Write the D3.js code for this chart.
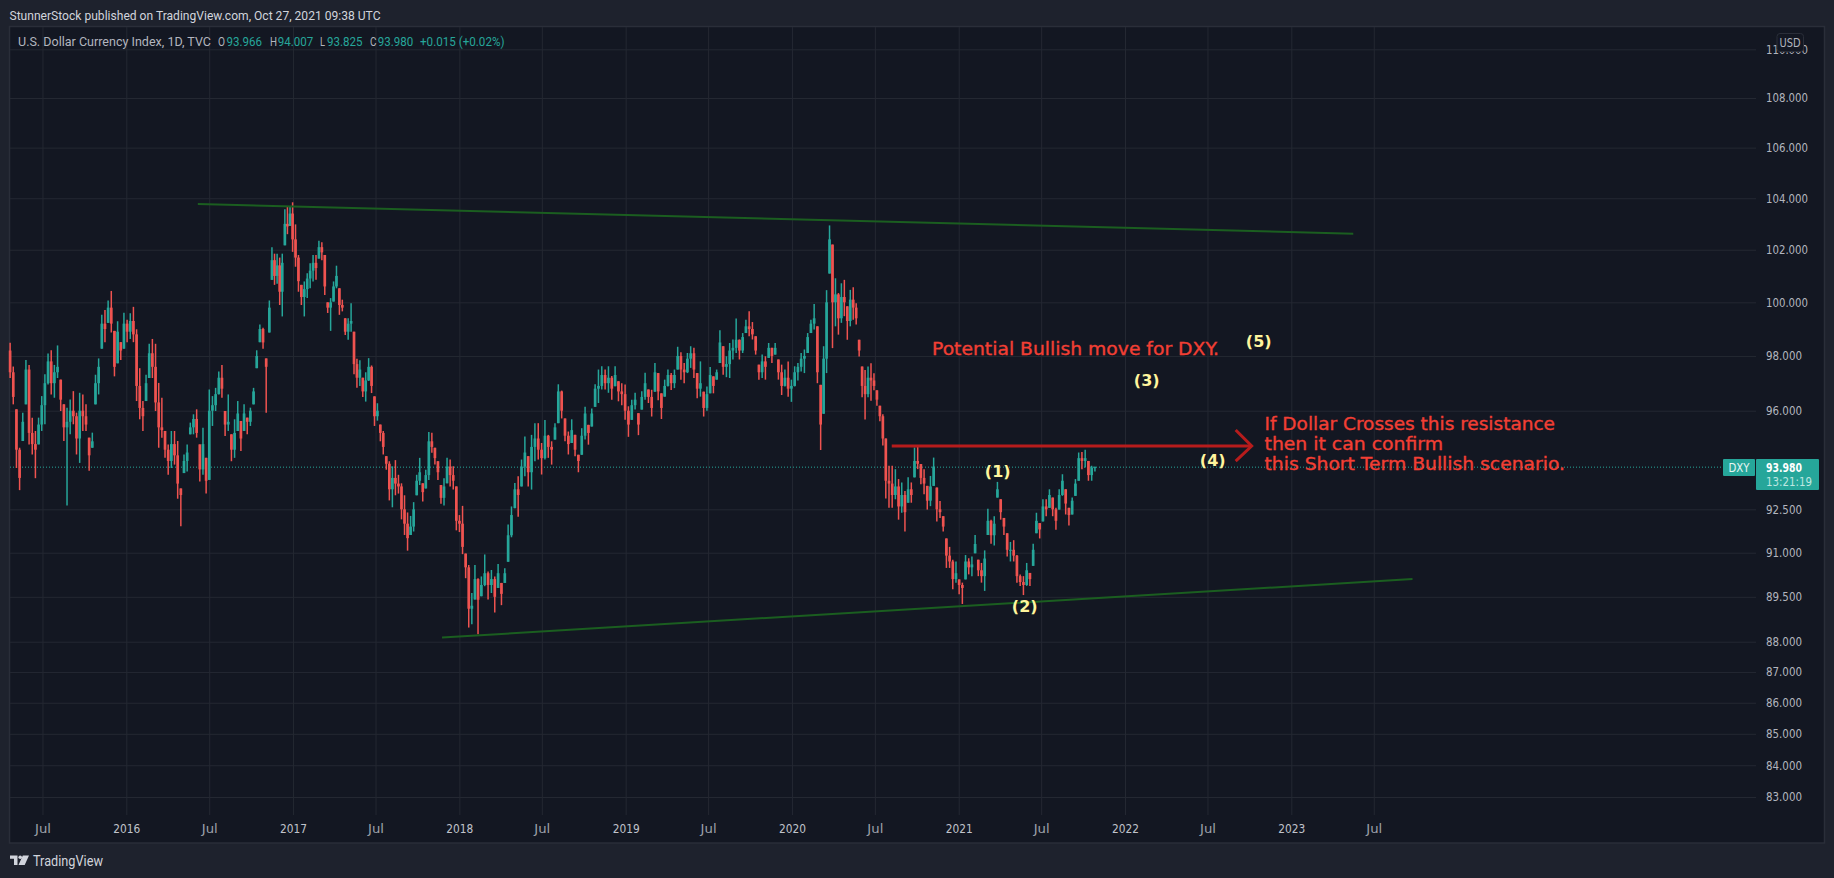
<!DOCTYPE html>
<html><head><meta charset="utf-8">
<script src="https://cdn.jsdelivr.net/npm/d3@7"></script>
<style>
html,body{margin:0;padding:0;background:#1e222d;overflow:hidden}
svg{display:block}
text{font-family:Roboto,"Noto Sans",sans-serif}
.note{font-family:"DejaVu Sans",sans-serif;fill:#f23f34;stroke:#f23f34;stroke-width:.35px}
.wave{font-family:"DejaVu Sans",sans-serif;font-weight:700;fill:#fff59d}
.domain{display:none}
</style></head><body>
<svg id="c" width="1834" height="878"></svg>
<script>
const highs=[98.49,97.61,96.05,94.67,95.93,97.85,97.67,95.75,95.27,95.75,
96.53,97.33,98.09,98.21,97.67,98.39,97.13,96.23,96.11,96.41,
96.71,95.93,96.65,96.59,96.23,95.03,95.21,97.31,97.91,99.53,
99.71,100.07,100.43,98.93,99.29,98.51,99.61,99.35,99.59,99.83,
98.99,97.55,96.35,97.31,98.45,98.63,98.45,97.01,96.47,95.27,
94.79,95.27,95.27,94.91,93.23,94.43,94.79,95.57,95.87,96.05,
94.79,95.39,94.31,96.77,96.53,96.83,97.43,97.67,95.99,96.59,
95.15,95.69,96.35,95.63,96.23,95.75,96.11,96.83,98.21,99.17,
99.05,97.91,100.07,102.1,101.85,101.85,101.7,101.85,103.57,103.67,
103.67,103.84,102.98,101.8,100.66,100.79,101.1,101.48,101.8,101.8,
102.35,102.29,101.8,100,100.16,100.79,101.39,100.53,100.1,99.4,
99.4,99.97,98.9,97.9,97.84,97.2,97.4,97.92,97.65,96.52,
96.27,95.5,95.27,94.37,94.19,94.01,94.23,93.71,93.41,92.99,
92.39,92.27,92.75,93.71,94.31,93.41,93.89,95.23,95.21,94.67,
94.19,93.35,93.59,94.31,94.25,94.01,93.3,92.3,92.62,90.97,
90.58,89.63,90.58,90.13,90.19,90.94,90.36,90.41,90.19,90.61,
89.97,90.47,91.97,92.6,93.42,93.66,94.25,95.07,94.37,95.13,
95.55,95.55,94.84,95.66,95.13,94.9,95.55,96.96,96.73,95.72,
95.25,95.69,95.13,94.42,95.37,96.14,95.49,96.08,96.96,97.5,
97.62,97.5,97.62,97.26,97.62,97.07,97,96.95,96.16,96.4,
96.65,95.91,96.71,97.38,96.77,96.76,97.74,97.37,96.63,97.13,
97.5,97.37,97.5,98.34,98.14,97.74,98.11,98.36,98.3,97.37,
97.8,96.69,96.88,97.59,97.25,97.5,98.95,98.36,97.99,98.48,
98.61,99.39,98.61,98.85,99.35,99.66,99.26,98.73,97.68,98.05,
97.99,98.48,98.3,98.48,97.87,97.68,97.5,97.8,97.13,97.62,
97.74,98.11,98.24,98.85,99.35,99.94,99.1,96.94,98.36,100.46,
102.94,102.2,100.91,100.35,100.72,100.85,99.85,100.47,100.57,99.97,
98.6,97.61,97.48,97.61,97.73,97.36,96.74,96.18,95.87,95,
94.03,94.03,93.91,93.56,93.44,93.14,93.62,93.44,94.68,94.74,
94.09,93.91,93.32,93.67,94.32,93.26,92.79,92.26,91.49,91.2,
90.76,90.7,90.09,89.98,90.92,90.81,90.87,91.61,90.76,90.65,
91.08,92.52,92.14,92.26,93.46,92.85,92.2,91.67,91.37,91.43,
90.92,90.26,90.2,90.65,90.31,91.31,92.38,92.02,92.85,92.85,
93.2,92.91,92.55,93.2,93.73,93.2,92.55,92.91,93.56,94.5,
94.52,94.6,94.2,94.03,94.007];
const lows=[97.19,96.23,93.95,93.17,94.91,96.23,94.79,94.43,93.59,94.79,
95.27,95.51,96.95,96.59,96.47,97.19,95.99,94.91,92.63,95.15,
95.51,94.43,94.13,95.27,95.27,93.85,94.67,96.23,96.59,98.27,
98.51,99.23,98.87,97.25,97.73,97.85,98.27,98.51,98.63,98.51,
96.35,95.69,95.27,96.35,97.19,97.19,95.99,94.67,95.03,94.31,
93.71,93.95,94.07,92.87,91.91,93.77,93.83,95.15,95.15,95.03,
93.47,93.71,93.05,93.53,95.45,95.99,96.59,96.47,95.09,95.27,
94.19,94.31,95.27,94.55,95.27,95.15,95.45,96.23,97.55,98.51,
98.27,95.93,98.87,100.85,100.66,100.7,99.9,99.47,102.17,102.6,
102.92,101.92,101.35,100.4,99.9,99.47,100.16,100.53,100.79,100.85,
101.66,101.6,100.28,99.6,98.93,100.03,100.53,99.53,99.66,98.78,
98.6,98.9,97.33,96.83,96.9,96.5,96.33,97.08,96.64,95.45,
95.64,94.9,94.43,93.89,92.81,92.57,92.99,93.05,92.15,91.61,
91.07,91.61,91.73,92.99,93.35,92.77,93.23,93.53,94.49,94.07,
93.53,92.69,92.63,93.41,93.3,93.19,91.77,91.71,90.95,90.13,
88.47,88.58,89.41,88.25,89.52,89.86,89.41,89.63,88.97,89.8,
89.22,89.97,90.69,91.53,92.54,92.24,93.3,93.66,93.3,93.19,
94.19,94.25,93.72,94.25,94.31,94.07,94.96,95.55,95.72,94.9,
94.43,94.84,94.37,93.8,94.42,94.96,94.78,95.43,96.14,96.28,
96.77,96.77,96.65,96.4,96.89,96.34,96.2,95.67,95.06,95.67,
96.04,95.12,96.04,96.4,96.28,95.79,96.69,96.38,95.7,96.51,
96.88,96.75,96.82,97.5,97.13,97,97.37,97.56,97.19,96.45,
96.51,95.79,96,96.63,96.63,97.13,97.74,97.31,97.22,97.19,
97.87,98.11,97.87,98.11,98.85,98.73,98.61,98.05,97.13,97.19,
97.13,97.93,97.74,98.05,97.13,96.57,96.88,96.51,96.32,96.88,
97.1,97.43,97.37,98.11,98.85,98.98,97,94.59,95.89,97.37,
101.09,98.29,99.1,98.79,99.23,99.48,98.6,99.1,99.35,99.17,
97.98,96.49,95.68,96.49,96.36,96.74,96.18,95.62,94.75,92.88,
92.55,92.55,92.85,92.14,92.38,91.73,92.73,92.73,93.62,93.91,
93.38,93.03,92.49,92.61,93.32,92.08,92.2,91.73,90.48,90.48,
89.76,89.98,89.59,89.26,90.09,90.26,90.2,90.98,90.2,89.98,
89.7,91.61,91.31,91.25,92.91,92.14,91.61,90.87,90.7,90.7,
89.98,89.87,89.56,89.87,89.87,90.55,91.67,91.49,92.08,92.26,
92.55,92.26,91.79,92.49,92.97,92.32,91.94,92.32,92.97,93.5,
93.91,93.97,93.5,93.5,93.825];
const closes=[97.4,96.5,94.6,93.6,95.6,97.5,95.2,94.8,94.6,95.5,
96.2,97,97.8,97,97.4,97.6,96.4,95.4,95.6,96,
95.8,95,96,95.8,95.5,94.4,94.9,97,97.6,99.2,
99,99.8,99.2,97.6,98.9,98.2,99.2,98.9,99.3,98.8,
96.9,96.1,95.8,97,98.1,97.6,96.3,95.4,95.3,94.6,
94.2,94.8,94.4,93.4,93,94.2,94.5,95.4,95.7,95.2,
93.9,94.8,93.5,96,96.2,96.6,97.2,96.8,95.5,95.6,
94.6,95.2,95.9,95,95.9,95.6,96,96.7,98,99,
98.5,97.6,99.8,101.6,101,101.4,100.4,101.5,103,102.9,
103.4,102.4,101.7,100.8,100.2,100.5,100.9,101.2,101.5,101.3,
102.1,101.9,100.6,99.8,100,100.6,101,99.9,99.8,98.9,
99.2,99.3,97.7,97.2,97.5,96.7,97.1,97.6,96.9,95.8,
96,95.2,94.7,94.1,93.2,93.6,93.4,93.3,92.5,92,
91.5,91.9,92.5,93.5,93.8,93.1,93.7,94.9,94.7,94.3,
93.8,92.9,93.3,94,93.7,93.5,92.1,92,91.2,90.5,
89.1,89.2,90.1,89.4,89.9,90.3,89.9,90.1,89.5,90.3,
89.6,90.3,91.6,92.3,93.2,93,94,94.5,93.8,94.7,
95,94.6,94.3,95.1,94.7,94.6,95.4,96.7,96,95.1,
94.8,95.3,94.6,94.2,95.1,95.9,95.2,95.9,96.8,96.9,
97.3,97,97.2,96.8,97.3,96.7,96.6,96,95.5,96.2,
96.4,95.5,96.5,97,96.5,96.1,97.4,96.7,96.1,96.9,
97.3,97,97.3,98,97.5,97.4,97.9,98.1,97.5,96.8,
97,96.1,96.6,97.3,96.9,97.4,98.5,97.6,97.7,98.2,
98.3,98.6,98.2,98.7,99.1,99,98.8,98.2,97.4,97.8,
97.6,98.3,98,98.3,97.4,96.9,97.2,96.8,96.9,97.4,
97.6,97.9,98,98.7,99.2,99.4,97.4,95.5,97.9,100,
102.4,100,100.3,99.4,100.2,100,99.3,100.1,99.8,99.4,
98.2,96.9,96.6,97.2,97.1,96.9,96.4,95.8,95,93.5,
93.4,93,93.3,92.6,93,92.4,93.2,93,94.2,94.1,
93.6,93.4,92.8,93.3,94,92.5,92.4,91.9,90.9,90.7,
90.1,90.3,89.9,89.8,90.7,90.5,90.6,91.3,90.4,90.2,
90.8,92.1,91.6,92,93.2,92.4,91.9,91.1,91.1,90.9,
90.2,90,89.9,90.4,90.1,91.1,92.1,91.8,92.6,92.5,
93,92.5,92.1,93,93.5,92.7,92.3,92.8,93.4,94.3,
94.2,94.3,93.7,93.966,93.98];
const firstOpen=98.2;
const barAnchorIndex=[0,82,91,122,143,153,188,204,257,279,314,344];
const barAnchorDate=["2015-04-21","2016-11-10","2016-12-31","2017-07-18","2017-12-05","2018-02-11","2018-10-26","2019-02-20","2020-03-04","2020-07-25","2021-03-27","2021-10-27"];

const priceTicks=[110,108,106,104,102,100,98,96,92.5,91,89.5,88,87,86,85,84,83];
const timeTickDates=["2015-07-01","2016-01-01","2016-07-01","2017-01-01","2017-07-01","2018-01-01","2018-07-01","2019-01-01","2019-07-01","2020-01-01","2020-07-01","2021-01-01","2021-07-01","2022-01-01","2022-07-01","2023-01-01","2023-07-01"];
const timeTickLabels=["Jul","2016","Jul","2017","Jul","2018","Jul","2019","Jul","2020","Jul","2021","Jul","2022","Jul","2023","Jul"];

const lastPrice=93.98;
const upperTrendDates=["2016-06-06","2023-05-17"], upperTrendPrices=[103.77,102.62];
const lowerTrendDates=["2017-11-24","2023-09-24"], lowerTrendPrices=[88.14,90.10];
const resistanceDates=["2020-08-07","2022-10-06"], resistancePrice=94.73;
const waveLabels=["(1)","(2)","(3)","(4)","(5)"];

const UP="#26a69a",DOWN="#ef5350",GRID="#242832",AXIS="#b2b5be";
const L={left:10,right:1756,top:27,bottom:815};
const parse=d=>new Date(d+"T00:00:00Z");
const x=d3.scaleUtc().domain([parse("2016-01-01"),parse("2023-01-01")]).range([126.3,1291.3]);
const y=d3.scaleLog().domain([83,110]).range([797,49.3]);
const svg=d3.select("#c");

svg.append("rect").attr("x",9.5).attr("y",26.5).attr("width",1815).attr("height",816.5).attr("fill","#131722").attr("stroke","#2a2e39").attr("stroke-width",1.5);

const gy=svg.append("g").attr("transform",`translate(${L.left},0)`)
 .call(d3.axisRight(y).tickValues(priceTicks).tickSize(L.right-L.left).tickFormat(""));
gy.selectAll("line").attr("stroke",GRID);
const gx=svg.append("g").attr("transform",`translate(0,${L.top})`)
 .call(d3.axisBottom(x).tickValues(timeTickDates.map(parse)).tickSize(L.bottom-L.top).tickFormat(""));
gx.selectAll("line").attr("stroke",GRID);

const ay=svg.append("g").attr("transform","translate(1756,0)")
 .call(d3.axisRight(y).tickValues(priceTicks).tickSize(0).tickPadding(10).tickFormat(d3.format(".3f")));
ay.selectAll("text").attr("fill",AXIS).style("font-family","'DejaVu Sans',sans-serif").style("font-size","12px").attr("textLength",d=>d>=100?42:36).attr("lengthAdjust","spacingAndGlyphs");

const ax=svg.append("g").attr("transform","translate(0,815)")
 .call(d3.axisBottom(x).tickValues(timeTickDates.map(parse)).tickSize(0).tickPadding(9).tickFormat((d,i)=>timeTickLabels[i]));
ax.selectAll("text").attr("fill",(d,i)=>timeTickLabels[i]==="Jul"?"#9ea2ab":"#c0c3cb")
 .style("font-family","'DejaVu Sans',sans-serif").style("font-size","12.5px").attr("textLength",(d,i)=>timeTickLabels[i]==="Jul"?16:27).attr("lengthAdjust","spacingAndGlyphs");

svg.append("line").attr("x1",L.left).attr("x2",1722).attr("y1",y(lastPrice)).attr("y2",y(lastPrice))
 .attr("stroke",UP).attr("stroke-width",1).attr("stroke-dasharray","1 2");

const barTime=d3.scaleLinear().domain(barAnchorIndex).range(barAnchorDate.map(d=>+parse(d)));
const bars=closes.map((c,i)=>{
  const o=i?Math.min(highs[i],Math.max(lows[i],closes[i-1])):firstOpen;
  return {t:new Date(barTime(i)),o,h:highs[i],l:lows[i],c};
});
const gb=svg.append("g");
gb.selectAll("line").data(bars).join("line")
 .attr("x1",d=>x(d.t)).attr("x2",d=>x(d.t)).attr("y1",d=>y(d.h)).attr("y2",d=>y(d.l))
 .attr("stroke",d=>d.c>=d.o?UP:DOWN).attr("stroke-width",1.5);
gb.selectAll("rect").data(bars).join("rect")
 .attr("x",d=>x(d.t)-1.35).attr("width",2.7)
 .attr("y",d=>y(Math.max(d.o,d.c))).attr("height",d=>Math.max(1,Math.abs(y(d.o)-y(d.c))))
 .attr("fill",d=>d.c>=d.o?UP:DOWN);

function seg(ds,ps,col,w){svg.append("line").attr("x1",x(parse(ds[0]))).attr("x2",x(parse(ds[1]))).attr("y1",y(ps[0])).attr("y2",y(ps[1])).attr("stroke",col).attr("stroke-width",w);}
seg(upperTrendDates,upperTrendPrices,"#1b5e20",2);
seg(lowerTrendDates,lowerTrendPrices,"#1b5e20",2);
seg(resistanceDates,[resistancePrice,resistancePrice],"#b71c1c",3);
const tipX=x(parse(resistanceDates[1])),tipY=y(resistancePrice);
svg.append("path").attr("d",`M${tipX-16},${tipY-16}L${tipX},${tipY}L${tipX-16},${tipY+15}`).attr("fill","none").attr("stroke","#b71c1c").attr("stroke-width",3);

function note(t,xx,yy,len){svg.append("text").attr("class","note").attr("x",xx).attr("y",yy).attr("font-size",17.5).attr("textLength",len).attr("lengthAdjust","spacingAndGlyphs").text(t);}
note("Potential Bullish move for DXY.",932,355,287);
note("If Dollar Crosses this resistance",1264.5,430,290.5);
note("then it can confirm",1264.5,450,178.5);
note("this Short Term Bullish scenario.",1264.5,470,300.5);
const wavePos=[[997.7,471.7],[1024.7,606.7],[1146.7,380],[1212.7,460.7],[1258.7,341.7]];
waveLabels.forEach((t,i)=>svg.append("text").attr("class","wave").attr("x",wavePos[i][0]).attr("y",wavePos[i][1]).attr("dy","0.35em").attr("text-anchor","middle").attr("font-size",16).text(t));

svg.append("rect").attr("x",1777).attr("y",33.5).attr("width",26.5).attr("height",18).attr("rx",3).attr("fill","#131722").attr("stroke","#2a2e39");
svg.append("text").attr("x",1790).attr("y",42.5).attr("dy","0.35em").attr("text-anchor","middle").attr("fill",AXIS).attr("font-size",12).attr("textLength",21).attr("lengthAdjust","spacingAndGlyphs").style("font-family","'DejaVu Sans',sans-serif").text("USD");

svg.append("rect").attr("x",1723).attr("y",459).attr("width",32).attr("height",17).attr("rx",1).attr("fill",UP);
svg.append("rect").attr("x",1756).attr("y",459).attr("width",63).attr("height",31).attr("rx",1).attr("fill",UP);
svg.append("text").attr("x",1739).attr("y",467.5).attr("dy","0.35em").attr("text-anchor","middle").attr("fill","#e6f5f3").attr("font-size",12).attr("textLength",21).attr("lengthAdjust","spacingAndGlyphs").style("font-family","'DejaVu Sans',sans-serif").text("DXY");
svg.append("text").attr("x",1766).attr("y",467.5).attr("dy","0.35em").attr("fill","#fff").attr("font-size",12).attr("font-weight",700).attr("textLength",36).attr("lengthAdjust","spacingAndGlyphs").style("font-family","'DejaVu Sans',sans-serif").text(lastPrice.toFixed(3));
svg.append("text").attr("x",1766).attr("y",481.5).attr("dy","0.35em").attr("fill","#bfe6e1").attr("font-size",12).attr("textLength",46).attr("lengthAdjust","spacingAndGlyphs").style("font-family","'DejaVu Sans',sans-serif").text("13:21:19");

function t(s,xx,yy,col,len,fs){svg.append("text").attr("x",xx).attr("y",yy).attr("dy","0.35em").attr("fill",col).attr("font-size",fs||13).attr("textLength",len).attr("lengthAdjust","spacingAndGlyphs").text(s);}
t("StunnerStock published on TradingView.com, Oct 27, 2021 09:38 UTC",9.5,15,"#d1d4dc",371);
t("U.S. Dollar Currency Index, 1D, TVC",18,41.7,AXIS,193);
[["O",218,7],["H",270,7],["L",320,5],["C",370,6.5]].forEach(a=>t(a[0],a[1],41.7,AXIS,a[2]));
[["93.966",226.6],["94.007",277.8],["93.825",327],["93.980",377.7]].forEach(a=>t(a[0],a[1],41.7,UP,35.5));
t("+0.015 (+0.02%)",420,41.7,UP,84.5);
svg.append("path").attr("fill","#d1d4dc").attr("d","M10 855.5H17.5V865H14V858.8H10ZM18.5 865L22.8 855.5H29L24.7 865Z");
svg.append("circle").attr("cx",20.2).attr("cy",857.2).attr("r",1.8).attr("fill","#d1d4dc");
t("TradingView",33,861,"#d1d4dc",70,14);
</script>
</body></html>
